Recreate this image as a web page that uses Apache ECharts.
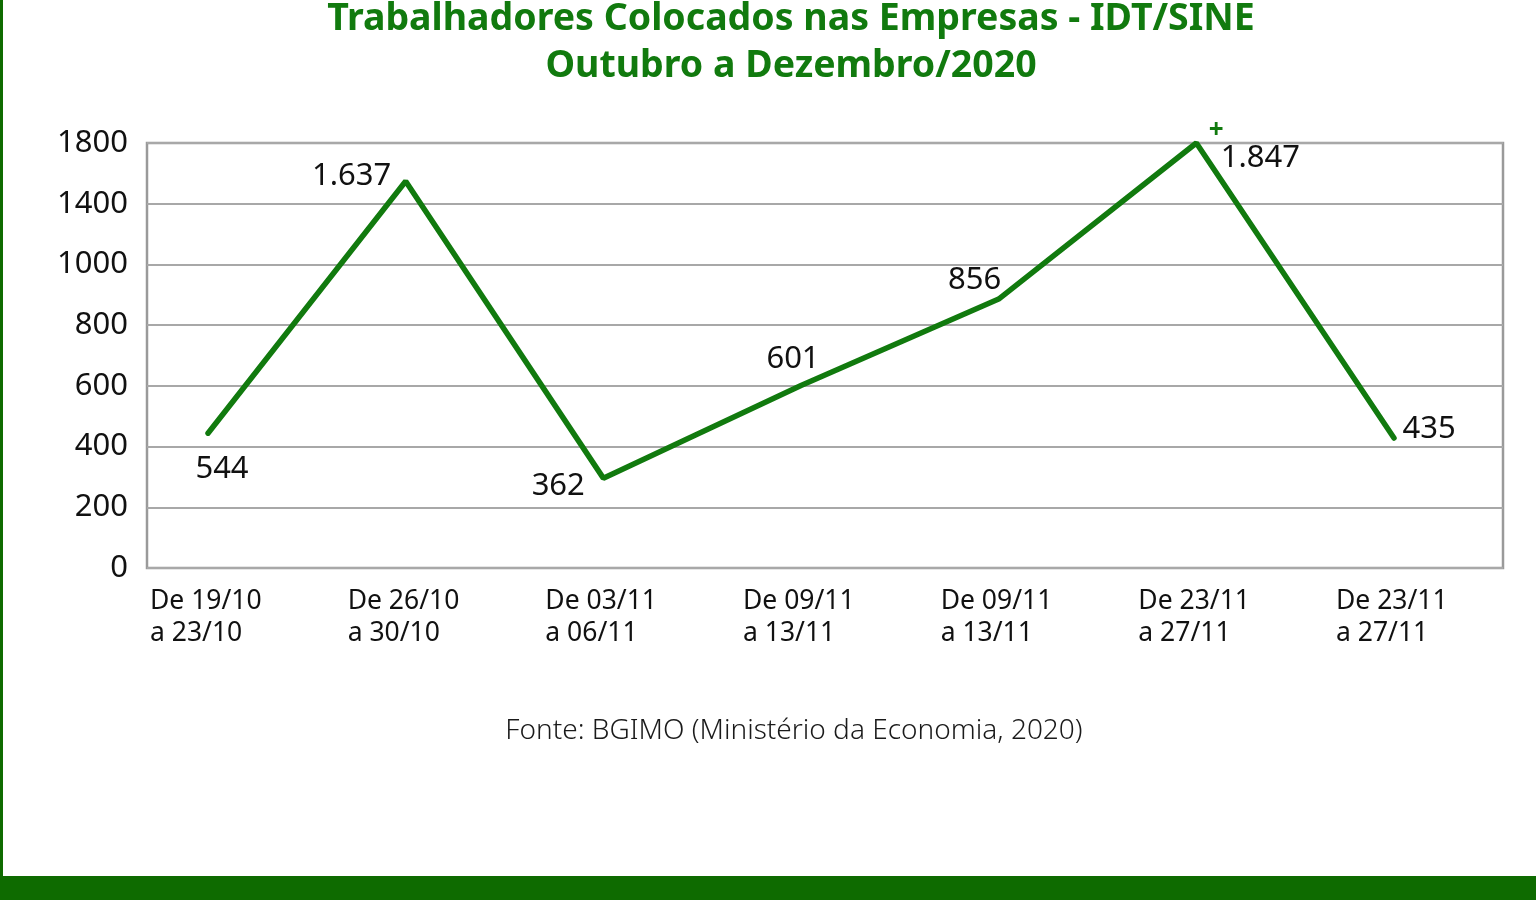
<!DOCTYPE html>
<html>
<head>
<meta charset="utf-8">
<script src="https://cdn.jsdelivr.net/npm/echarts@6/dist/echarts.min.js"></script>
<style>
  html, body { margin: 0; padding: 0; background: #fff; }
  #chart { width: 1536px; height: 900px; }
</style>
</head>
<body>
<div id="chart"></div>
<script>
// periods (x categories)
const periods = [
  ["De 19/10", "a 23/10"],
  ["De 26/10", "a 30/10"],
  ["De 03/11", "a 06/11"],
  ["De 09/11", "a 13/11"],
  ["De 09/11", "a 13/11"],
  ["De 23/11", "a 27/11"],
  ["De 23/11", "a 27/11"]
];
// tick labels as printed on the (uneven) y axis
const yTicks = [0, 200, 400, 600, 800, 1000, 1400, 1800];
// where the line is actually drawn, read against the printed ticks
const plotted = [444, 1548, 296, 601, 886, 1800, 428];
// the numbers written next to each point
const shown = ["544", "1.637", "362", "601", "856", "1.847", "435"];

const green = "#117a0e";
const font = "Noto Sans";

// printed tick value -> tick slot (the grid lines are evenly spaced)
function toSlot(v) {
  for (let i = 1; i < yTicks.length; i++) {
    if (v <= yTicks[i]) {
      return i - 1 + (v - yTicks[i - 1]) / (yTicks[i] - yTicks[i - 1]);
    }
  }
  return yTicks.length - 1;
}

const labelStyle = [
  { position: "bottom", offset: [14, 15] },
  { position: "left", offset: [-9, -5] },
  { position: "left", offset: [-13, 8] },
  { position: "top", offset: [-8, -5] },
  { position: "top", offset: [-24, 2] },
  { position: "right", offset: [4, 3], align: "left" },
  { position: "right", offset: [3, -9] }
];

const chart = echarts.init(document.getElementById("chart"));

const option = {
  animation: false,
  backgroundColor: "#fff",
  textStyle: { fontFamily: font },
  grid: [
    { left: 147, right: 33, top: 143, bottom: 332, show: true,
      borderColor: "#9a9a9a", borderWidth: 2.5, backgroundColor: "transparent" },
    { left: 208, right: 142, top: 143, bottom: 332 }
  ],
  xAxis: [
    { gridIndex: 0, type: "value", show: false },
    {
      gridIndex: 1,
      type: "category",
      boundaryGap: false,
      data: periods.map(p => p.join("\n")),
      axisLine: { show: false },
      axisTick: { show: false },
      axisLabel: {
        margin: 17,
        interval: 0,
        formatter: v => v.split("\n").map(s => "{a|" + s + "}").join("\n"),
        rich: {
          a: { fontFamily: font, fontSize: 26.5, color: "#111", width: 116, align: "left", lineHeight: 32 }
        }
      }
    }
  ],
  yAxis: [
    {
      gridIndex: 0,
      type: "value",
      min: 0,
      max: yTicks.length - 1,
      interval: 1,
      axisLine: { show: false },
      axisTick: { show: false },
      axisLabel: {
        margin: 19,
        fontFamily: font,
        fontSize: 31,
        color: "#111",
        formatter: v => String(yTicks[Math.round(v)])
      },
      splitLine: { lineStyle: { color: "#a8a8a8", width: 2 } }
    },
    { gridIndex: 1, type: "value", min: 0, max: yTicks.length - 1, show: false }
  ],
  series: [
    {
      type: "line",
      xAxisIndex: 1,
      yAxisIndex: 1,
      data: plotted.map((v, i) => ({
        value: toSlot(v),
        label: Object.assign({
          show: true,
          formatter: i === 5 ? "{p|+}\n{v|" + shown[i] + "}" : shown[i]
        }, labelStyle[i])
      })),
      symbol: "circle",
      symbolSize: 1,
      itemStyle: { color: green },
      lineStyle: { color: green, width: 5.5, cap: "round" },
      label: {
        fontFamily: font,
        fontSize: 31,
        color: "#111",
        rich: {
          p: { fontFamily: font, fontSize: 26, fontWeight: "bold", color: green, lineHeight: 24, padding: [0, 0, 0, 3] },
          v: { fontFamily: font, fontSize: 31, color: "#111", lineHeight: 30, padding: [0, 0, 0, 15] }
        }
      },
      z: 5
    }
  ],
  graphic: [
    { type: "rect", shape: { x: 0, y: 0, width: 3, height: 900 }, style: { fill: "#0e6b00" } },
    { type: "rect", shape: { x: 0, y: 876, width: 1536, height: 24 }, style: { fill: "#0e6b00" } },
    {
      type: "text", x: 791, y: 19,
      style: { text: "Trabalhadores Colocados nas Empresas - IDT/SINE", fill: green,
        font: "bold 37.5px 'Noto Sans'", textAlign: "center", textVerticalAlign: "middle" }
    },
    {
      type: "text", x: 791, y: 66,
      style: { text: "Outubro a Dezembro/2020", fill: green,
        font: "bold 37.5px 'Noto Sans'", textAlign: "center", textVerticalAlign: "middle" }
    },
    {
      type: "text", x: 794, y: 731,
      style: { text: "Fonte: BGIMO (Ministério da Economia, 2020)", fill: "#1a1a1a",
        font: "300 28px 'Noto Sans'", textAlign: "center", textVerticalAlign: "middle" }
    }
  ]
};

chart.setOption(option);
window.addEventListener("resize", () => chart.resize());
</script>
</body>
</html>
